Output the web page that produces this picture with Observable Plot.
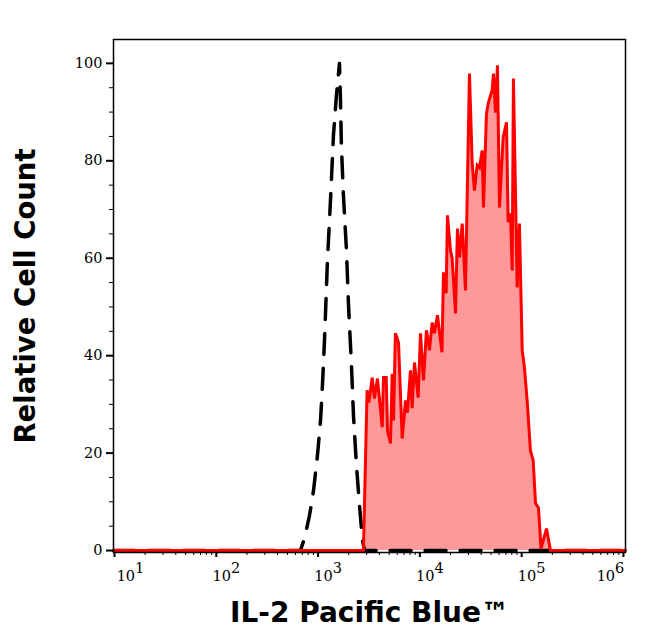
<!DOCTYPE html>
<html><head><meta charset="utf-8">
<script src="https://cdn.jsdelivr.net/npm/d3@7"></script>
<script src="https://cdn.jsdelivr.net/npm/@observablehq/plot@0.6"></script>
<style>body{margin:0;background:#fff}</style>
</head><body><div id="chart"></div>
<script>
// Control (unstained) histogram - black dashed
const controlX = [9.8, 671, 735, 824, 902, 986, 1057, 1104, 1156, 1236, 1324, 1416, 1514, 1622, 1660, 1694, 1774, 1901, 1991, 2128, 2228, 2382, 2553, 2729, 2858, 1047000];
const controlY = [0, 0, 2.5, 7.2, 12.3, 19.5, 26.7, 33.9, 43.1, 59.5, 71.9, 85.2, 93.4, 100, 92.4, 83.2, 72.9, 61.6, 50.3, 38.0, 27.7, 17.5, 9.2, 2.1, 0, 0];

// IL-2 Pacific Blue stained histogram - red filled
const stainedX = [9.8, 2790, 3030, 3160, 3400, 3580, 3830, 4270, 4390, 4670, 4810, 5140, 5350, 5510, 5750, 6170, 6700, 7230, 7550, 8090, 8390, 8850, 9620, 10140, 10840, 11610, 12420, 13210, 13900, 14890, 16480, 17060, 18110, 18660, 20000, 20750, 22390, 23390, 24490, 26060, 28050, 30690, 32660, 34360, 36560, 38460, 40930, 42170, 45080, 47210, 51290, 52840, 55340, 57810, 60530, 65770, 70960, 73620, 77620, 80720, 82990, 90360, 95060, 101200, 106400, 113200, 121900, 129700, 136800, 146200, 154900, 175400, 191900, 1047000];
const stainedY = [0, 0, 32.9, 30.4, 35.5, 31.2, 35.3, 25.3, 35.5, 35.5, 24.6, 22.0, 36.3, 26.7, 44.6, 42.7, 23.0, 30.8, 28.3, 37.0, 29.2, 38.6, 31.4, 44.6, 34.9, 45.2, 41.1, 46.8, 44.6, 48.3, 40.7, 57.1, 52.8, 68.8, 61.6, 60.0, 48.7, 66.1, 60.2, 67.1, 53.4, 97.9, 79.5, 73.9, 79.1, 78.6, 82.1, 70.4, 89.7, 92.0, 94.5, 97.9, 89.9, 99.6, 70.4, 84.8, 87.9, 67.4, 69.2, 57.5, 96.9, 54.0, 67.1, 41.1, 37.6, 30.8, 20.5, 18.5, 9.7, 8.8, 0.4, 4.5, 0, 0];

const xMajorTicks = [10, 100, 1000, 10000, 100000, 1000000];
const xTickLabels = ["10¹", "10²", "10³", "10⁴", "10⁵", "10⁶"];
const xMinorMultipliers = [2, 3, 4, 5, 6, 7, 8, 9];
const xMinorDecades = [10, 100, 1000, 10000, 100000];
const yMajorTicks = [0, 20, 40, 60, 80, 100];
const yMinorTicks = [5, 10, 15, 25, 30, 35, 45, 50, 55, 65, 70, 75, 85, 90, 95];
const xTitle = "IL-2 Pacific Blue™";
const yTitle = "Relative Cell Count";

const control = controlX.map((x, i) => ({x, y: controlY[i]}));
const stained = stainedX.map((x, i) => ({x, y: stainedY[i]}));
const xMinorTicks = xMinorDecades.flatMap(d => xMinorMultipliers.map(m => m * d));
const supMap = {"¹":"1","²":"2","³":"3","⁴":"4","⁵":"5","⁶":"6"};

const svg = Plot.plot({
  width: 646,
  height: 641,
  marginLeft: 113,
  marginRight: 21,
  marginTop: 39,
  marginBottom: 89,
  style: {fontFamily: "DejaVu Serif", fontSize: "14px", color: "black", background: "white"},
  x: {type: "log", domain: [9.78, 1047000]},
  y: {domain: [-0.4, 104.9]},
  marks: [
    Plot.areaY(stained, {x: "x", y: "y", fill: "#ff9999"}),
    Plot.lineY(control, {x: "x", y: "y", stroke: "black", strokeWidth: 3.5, strokeDasharray: "21,14"}),
    Plot.lineY(stained, {x: "x", y: "y", stroke: "#ff0000", strokeWidth: 3, strokeLinejoin: "miter", strokeMiterlimit: 4}),
    Plot.frame({stroke: "black", strokeWidth: 1.5}),
    Plot.axisY({ticks: yMajorTicks, tickSize: 7, tickPadding: 4, strokeWidth: 2, label: null, fontSize: 14.5}),
    Plot.axisY({ticks: yMinorTicks, tickSize: 4, strokeWidth: 1, label: null, tickFormat: () => ""}),
    Plot.axisX({ticks: xMajorTicks, tickSize: 5, tickPadding: 13, strokeWidth: 2, label: null, fontSize: 14.5,
      tickFormat: d => xTickLabels[xMajorTicks.indexOf(d)]}),
    Plot.axisX({ticks: xMinorTicks, tickSize: 3, strokeWidth: 1, label: null, tickFormat: () => ""}),
    Plot.text([xTitle], {frameAnchor: "bottom", dy: 69, fontSize: 28, fontWeight: "bold", fontFamily: "DejaVu Sans", fill: "black"}),
    Plot.text([yTitle], {frameAnchor: "left", textAnchor: "middle", dx: -87, rotate: -90, fontSize: 27.5, fontWeight: "bold", fontFamily: "DejaVu Sans", fill: "black"})
  ]
});

const labelNodes = Array.from(svg.querySelectorAll('g[aria-label="x-axis tick label"] text'))
  .filter(node => node.textContent && supMap[node.textContent.slice(-1)]);
labelNodes.forEach((node, i) => {
  const el = d3.select(node);
  const t = node.textContent;
  el.text(t.slice(0, -1));
  el.append("tspan").attr("dy", "-8").text(supMap[t.slice(-1)]);
  // labels sit slightly right of their tick; outermost ones kept inside the frame
  const x0 = +el.attr("x") || 0;
  let shift = 10;
  if (i === 0) shift = 16;
  if (i === labelNodes.length - 1) shift = -13;
  el.attr("x", x0 + shift);
});

document.getElementById("chart").appendChild(svg);
</script>
</body></html>
